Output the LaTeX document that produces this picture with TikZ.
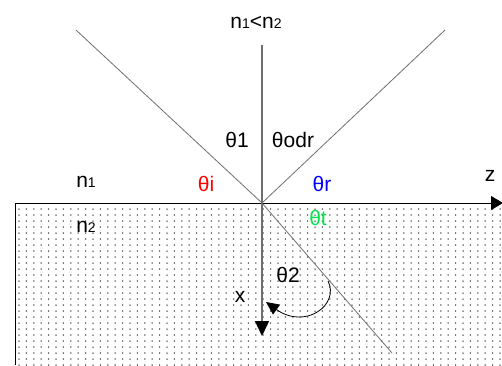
\documentclass[tikz,border=0pt]{standalone}
\usepackage{fontspec}
\setmainfont{Liberation Sans}
\usetikzlibrary{arrows.meta}
\definecolor{lgray}{RGB}{110,110,110}
\definecolor{dotgray}{RGB}{40,40,40}
\definecolor{tgreen}{RGB}{0,230,70}
\tikzset{
  ray/.style={draw=lgray, line width=0.8pt},
  lbl/.style={font=\fontsize{21}{24}\selectfont, inner sep=0pt, anchor=center},
}
\newcommand{\smalldigit}[1]{{\fontsize{14}{15}\selectfont #1}}
\begin{document}
\begin{tikzpicture}[x=1pt,y=-1pt]
\useasboundingbox (0,0) rectangle (502,365);
% dotted medium
\begin{scope}
\clip (15,203) rectangle (502,365);
\foreach \i in {0,...,66}{
  \foreach \j in {0,...,27}{
    \fill[dotgray] ({19+\i*7.4},{209+\j*6}) circle (0.75pt);
  }
}
\end{scope}
\coordinate (O) at (262,203);
\coordinate (inc) at (76,30);
\coordinate (refl) at (445,30);
\coordinate (tr) at (392,353);
\coordinate (vtop) at (262,45);
\coordinate (xend) at (262,336);
\coordinate (zl) at (15,203);
\coordinate (zend) at (503,203);
\coordinate (bl) at (15,365);
% interface and left edge
\draw[line width=1pt] (bl) -- (zl);
\draw[line width=1pt, -{Triangle[length=12pt,width=14pt]}] (zl) -- (zend);
% rays
\draw[ray] (inc) -- (O);
\draw[ray] (O) -- (refl);
\draw[ray] (O) -- (tr);
\draw[draw=lgray, line width=1.3pt, -{Triangle[length=15pt,width=14pt,fill=black,color=black]}] (vtop) -- (xend);
% angle arc
\coordinate (a1) at (328,281);
\coordinate (a2) at (266,302);
\draw[line width=0.8pt, -{Triangle[length=13pt,width=12pt]}] (a1) .. controls (340,305) and (305,330) .. (a2);
% labels
\node[lbl] (top) at (256,22) {n\smalldigit{1}<n\smalldigit{2}};
\node[lbl] (t1) at (237,140) {θ1};
\node[lbl] (todr) at (293,140) {θodr};
\node[lbl] (n1) at (86,182) {n\smalldigit{1}};
\node[lbl, text=red] (ti) at (206,184) {θi};
\node[lbl, text=blue] (trl) at (322,184) {θr};
\node[lbl, text=tgreen] (tt) at (318,218) {θt};
\node[lbl] (n2) at (86,227) {n\smalldigit{2}};
\node[lbl] (z) at (490,176) {z};
\node[lbl] (x) at (240,297) {x};
\node[lbl] (t2) at (288,275) {θ2};
\end{tikzpicture}
\end{document}
